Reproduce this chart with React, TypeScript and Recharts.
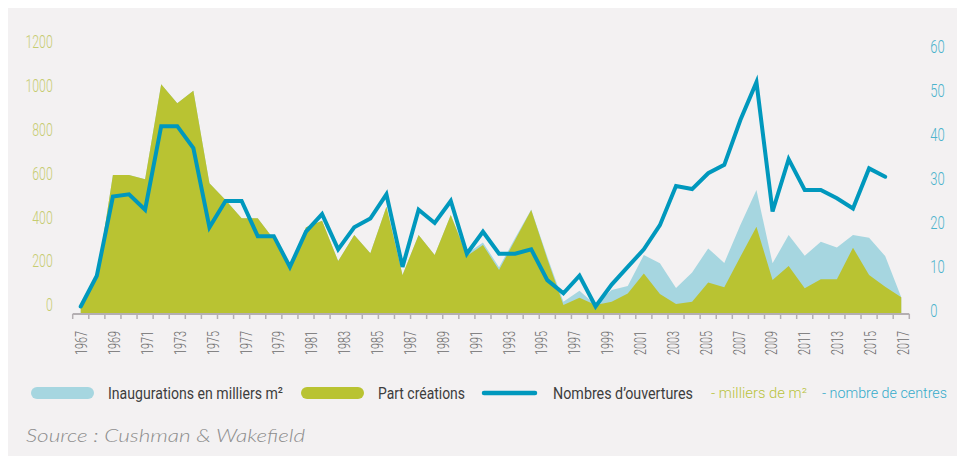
import { ComposedChart, Area, Line, XAxis, YAxis } from 'recharts';

const years = [
  1967, 1968, 1969, 1970, 1971, 1972, 1973, 1974, 1975, 1976, 1977, 1978, 1979,
  1980, 1981, 1982, 1983, 1984, 1985, 1986, 1987, 1988, 1989, 1990, 1991, 1992,
  1993, 1994, 1995, 1996, 1997, 1998, 1999, 2000, 2001, 2002, 2003, 2004, 2005,
  2006, 2007, 2008, 2009, 2010, 2011, 2012, 2013, 2014, 2015, 2016, 2017, 2018,
];

// inaugurations, milliers de m²
const inaugurations = [
  0, 120, 592, 592, 573, 1006, 919, 977, 555, 479, 395, 395, 300,
  165, 354, 384, 200, 319, 236, 448, 137, 319, 228, 410, 235, 285,
  172, 305, 435, 220, 15, 65, 0, 68, 87, 228, 190, 78, 148,
  258, 192, 365, 524, 190, 319, 224, 288, 262, 319, 307, 223, 35,
];

// part créations, milliers de m²
const creations = [
  0, 120, 592, 592, 573, 1006, 919, 977, 555, 479, 395, 395, 300,
  165, 354, 384, 200, 319, 236, 448, 137, 319, 228, 410, 223, 273,
  160, 296, 433, 210, 0, 33, 0, 15, 53, 144, 50, 5, 15,
  103, 81, 220, 357, 114, 178, 76, 117, 117, 261, 137, 83, 35,
];

// nombre d'ouvertures
const openings = [
  1, 8, 26, 26.5, 23, 42, 42, 37, 19, 25, 25, 17, 17,
  10, 18, 22, 14, 19, 21, 26.5, 10, 23, 20, 25, 13, 18,
  13, 13, 14, 7, 4, 8, 1, 6, 10, 14, 19.5, 28.4, 27.7,
  31.3, 33.2, 43.4, 52, 22.6, 34.5, 27.5, 27.5, 25.6, 23.3, 32.4, 30.5, null,
];

const yearLabels = [
  1967, 1969, 1971, 1973, 1975, 1977, 1979, 1981, 1983, 1985, 1987, 1989, 1991,
  1993, 1995, 1997, 1999, 2001, 2003, 2005, 2007, 2009, 2011, 2013, 2015, 2017,
];
const leftTicks = [0, 200, 400, 600, 800, 1000, 1200];
const rightTicks = [0, 10, 20, 30, 40, 50, 60];

const data = years.map((year, i) => ({
  idx: i,
  year,
  inaug: inaugurations[i],
  creat: creations[i],
  open: openings[i],
}));

// small tick marks sit between the yearly bands
const bandEdges = Array.from({ length: years.length + 1 }, (_, i) => i - 0.5);
// the printed year labels are spread a little wider than the bands
const labelPos = yearLabels.map((y) => 0.06 + (y - 1967) * 1.02125);
const xTicks = [...bandEdges, ...labelPos];

const FONT = 'Roboto, "Noto Sans", sans-serif';
const BLUE = '#a6d6e0';
const GREEN = '#b9c332';
const LINE = '#0098bd';
const AXIS = '#b4afb2';

function XTick(props: any) {
  const { x, y, payload } = props;
  const k = labelPos.findIndex((p) => Math.abs(p - payload.value) < 1e-6);
  if (k < 0) {
    return <line x1={x} y1={y} x2={x} y2={y + 5} stroke={AXIS} strokeWidth={1.5} />;
  }
  return (
    <text
      transform={`translate(${x},${y + 17}) rotate(-90)`}
      textAnchor="end"
      dy="0.35em"
      fill="#6c6c6c"
      fontSize={16}
      fontWeight={300}
      fontFamily={FONT}
      textLength={24}
      lengthAdjust="spacingAndGlyphs"
    >
      {yearLabels[k]}
    </text>
  );
}

function LeftTick(props: any) {
  const { x, y, payload } = props;
  const s = String(payload.value);
  return (
    <text
      x={x}
      y={y}
      dy="0.35em"
      textAnchor="end"
      fill="#c6cc70"
      fontSize={18}
      fontWeight={300}
      fontFamily={FONT}
      textLength={s.length * 6.8}
      lengthAdjust="spacingAndGlyphs"
    >
      {s}
    </text>
  );
}

function RightTick(props: any) {
  const { x, y, payload } = props;
  const s = String(payload.value);
  return (
    <text
      x={x}
      y={y}
      dy="0.35em"
      textAnchor="start"
      fill="#4bb3cc"
      fontSize={18}
      fontWeight={300}
      fontFamily={FONT}
      textLength={s.length * 7.2}
      lengthAdjust="spacingAndGlyphs"
    >
      {s}
    </text>
  );
}

function Label({ x, y, w, children, fill = '#3d3d3d', weight = 400, size = 17 }: any) {
  return (
    <text
      x={x}
      y={y}
      dy="0.35em"
      fill={fill}
      fontSize={size}
      fontWeight={weight}
      fontFamily={FONT}
      textLength={w}
      lengthAdjust="spacingAndGlyphs"
    >
      {children}
    </text>
  );
}

export default function App() {
  return (
    <div style={{ position: 'relative', width: 952, height: 448, background: '#f3f1f2' }}>
      <ComposedChart
        width={952}
        height={360}
        data={data}
        margin={{ top: 33.7, right: 10.7, left: 14.7, bottom: 9 }}
      >
        <XAxis
          dataKey="idx"
          type="number"
          domain={[-0.5, years.length - 0.5]}
          ticks={xTicks}
          interval={0}
          allowDataOverflow
          height={45}
          axisLine={{ stroke: AXIS, strokeWidth: 2 }}
          tickLine={false}
          tickSize={0}
          tickMargin={0}
          tick={<XTick />}
        />
        <YAxis
          yAxisId="l"
          domain={[-41, 1200]}
          ticks={leftTicks}
          interval={0}
          allowDataOverflow
          width={50}
          axisLine={false}
          tickLine={false}
          tickSize={0}
          tickMargin={20}
          tick={<LeftTick />}
        />
        <YAxis
          yAxisId="r"
          orientation="right"
          domain={[-0.7, 61.2]}
          ticks={rightTicks}
          interval={0}
          allowDataOverflow
          width={40}
          axisLine={false}
          tickLine={false}
          tickSize={0}
          tickMargin={21}
          tick={<RightTick />}
        />
        <Area
          yAxisId="l"
          type="linear"
          dataKey="inaug"
          stroke="none"
          fill={BLUE}
          fillOpacity={1}
          baseValue="dataMin"
          isAnimationActive={false}
        />
        <Area
          yAxisId="l"
          type="linear"
          dataKey="creat"
          stroke="none"
          fill={GREEN}
          fillOpacity={1}
          baseValue="dataMin"
          isAnimationActive={false}
        />
        <Line
          yAxisId="r"
          type="linear"
          dataKey="open"
          stroke={LINE}
          strokeWidth={4}
          strokeLinecap="round"
          dot={false}
          activeDot={false}
          isAnimationActive={false}
        />
      </ComposedChart>

      <svg
        width={952}
        height={88}
        style={{ position: 'absolute', left: 0, top: 360 }}
        viewBox="0 360 952 88"
      >
        <rect x={23} y={379} width={63} height={12} rx={6} fill={BLUE} />
        <Label x={100} y={385} w={175}>Inaugurations en milliers m²</Label>
        <rect x={293} y={379} width={63} height={12} rx={6} fill={GREEN} />
        <Label x={370} y={385} w={87}>Part créations</Label>
        <line x1={476} y1={385} x2={527} y2={385} stroke={LINE} strokeWidth={4.5} strokeLinecap="round" />
        <Label x={545} y={385} w={140}>Nombres d’ouvertures</Label>
        <Label x={703} y={385} w={96} fill="#b9c33d" weight={300} size={14.5}>- milliers de m²</Label>
        <Label x={814} y={385} w={125} fill="#35abca" weight={300} size={14.5}>- nombre de centres</Label>
        <text
          x={18}
          y={428}
          dy="0.35em"
          fill="#8d8d8d"
          fontSize={18}
          fontStyle="italic"
          fontWeight={300}
          fontFamily='Lato, "Open Sans", sans-serif'
          textLength={279}
          lengthAdjust="spacingAndGlyphs"
        >
          Source : Cushman &amp; Wakefield
        </text>
      </svg>
    </div>
  );
}
